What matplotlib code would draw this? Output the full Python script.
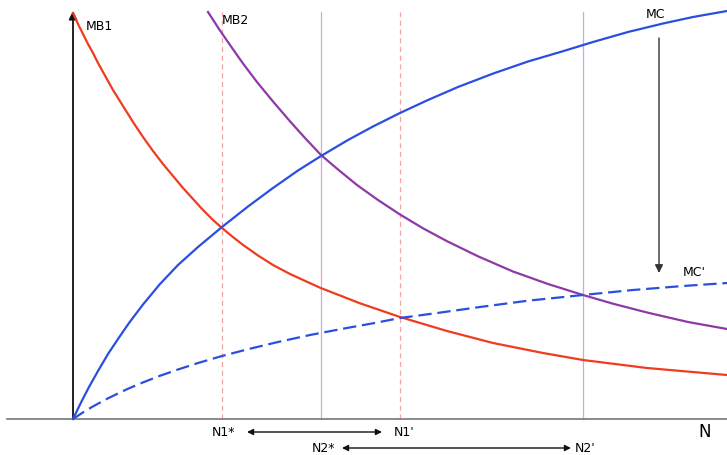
import matplotlib.pyplot as plt

# curve readings: N along the horizontal axis, value up the vertical axis
mb1_n = [0, 5, 10, 15, 20, 25, 30, 35, 40, 50, 60, 70, 80, 90, 100, 110, 120, 130, 140, 149,
         160, 170, 185, 200, 217, 247, 287, 327, 374, 420, 470, 510, 574, 654]
mb1_v = [406, 395, 385, 375, 366, 356, 347, 338, 329, 313, 297, 282, 268, 255, 243, 231, 220, 209, 199, 191,
         181.9, 174.1, 163.5, 154, 145, 131.3, 115.7, 102, 88, 76, 66, 59, 51, 44]

mb2_n = [135, 146, 157, 170, 184, 200, 217, 232, 248, 265, 284, 305, 327, 350, 374, 405, 440, 475,
         510, 540, 574, 615, 654]
mb2_v = [407, 390, 374, 355.5, 337, 317.5, 297.7, 281, 264, 249.5, 234, 219, 204.5, 190.7, 177.8, 162.7,
         147.5, 135, 124, 115.3, 106.5, 97, 90]

mc_n = [0, 8, 16, 25, 35, 45, 56, 70, 87, 105, 125, 149, 175, 200, 225, 248, 275, 300, 327, 355,
        385, 420, 455, 490, 520, 555, 590, 620, 654]
mc_v = [0, 16.5, 32, 48, 65, 80, 96, 114.5, 135, 154, 172, 192, 212.5, 231, 248.5, 263, 279, 292.5, 306, 319,
        332, 345.4, 357.5, 367.8, 377, 387, 395.5, 402, 408]

mc2_n = [0, 10, 20, 35, 54, 70, 87, 105, 125, 149, 175, 205, 237, 270, 300, 327, 365, 407, 455,
         510, 560, 610, 654]
mc2_v = [0, 6.6, 12.6, 20.7, 29.8, 36.6, 43.2, 49.5, 56, 63, 69.8, 77, 84, 90.3, 95.7, 101, 106.1, 112, 118.3,
         124, 129, 133, 136]

# equilibrium quantities
n_marks = {"N1*": 149, "N2*": 248, "N1'": 327, "N2'": 510}

RED = "#f03c1e"
PURPLE = "#8e3aa6"
BLUE = "#2a4fe0"
PINK = "#f3a3a3"
LILAC = "#d4a6de"

fig = plt.figure(figsize=(7.27, 4.55), dpi=100)
ax = fig.add_axes([0, 0, 1, 1])
ax.set_xlim(-73, 654)
ax.set_ylim(-36, 419)
ax.axis("off")

top = 407

# vertical guide lines
for key, style, col in [("N1*", (0, (4, 3)), PINK), ("N1'", (0, (4, 3)), PINK),
                        ("N2*", "-", LILAC), ("N2'", "-", LILAC)]:
    ax.plot([n_marks[key]] * 2, [0, top], color=col, lw=0.9, ls=style, zorder=1)

# axes
ax.plot([-66, 654], [0, 0], color="#777777", lw=1.2, zorder=2)
ax.annotate("", xy=(0, top + 1), xytext=(0, 0),
            arrowprops=dict(arrowstyle="-|>", color="#111111", lw=1.3,
                            mutation_scale=12, shrinkA=0, shrinkB=0), zorder=3)

# curves
ax.plot(mb1_n, mb1_v, color=RED, lw=1.6, zorder=4)
ax.plot(mb2_n, mb2_v, color=PURPLE, lw=1.6, zorder=4)
ax.plot(mc_n, mc_v, color=BLUE, lw=1.6, zorder=5)
line, = ax.plot(mc2_n, mc2_v, color=BLUE, lw=1.6, zorder=5)
line.set_dashes([6, 2.6])

# shift arrow MC -> MC'
ax.annotate("", xy=(586, 146), xytext=(586, 381),
            arrowprops=dict(arrowstyle="-|>", color="#333333", lw=1.0,
                            mutation_scale=12, shrinkA=0, shrinkB=0))

fs = 9
ax.text(13, 392, "MB1", fontsize=fs, ha="left", va="center")
ax.text(149, 399, "MB2", fontsize=fs, ha="left", va="center")
ax.text(573, 405, "MC", fontsize=fs, ha="left", va="center")
ax.text(610, 146, "MC'", fontsize=fs, ha="left", va="center")
ax.text(632, -13, "N", fontsize=12, ha="center", va="center")

# N labels and ranges
ax.text(n_marks["N1*"] - 10, -13, "N1*", fontsize=fs, ha="left", va="center")
ax.text(n_marks["N1'"] - 6, -13, "N1'", fontsize=fs, ha="left", va="center")
ax.text(n_marks["N2*"] - 9, -29, "N2*", fontsize=fs, ha="left", va="center")
ax.text(n_marks["N2'"] - 8, -29, "N2'", fontsize=fs, ha="left", va="center")

dbl = dict(arrowstyle="<|-|>", color="#111111", lw=1.0, mutation_scale=9,
           shrinkA=0, shrinkB=0)
ax.annotate("", xy=(174, -13), xytext=(309, -13), arrowprops=dbl)
ax.annotate("", xy=(269, -29), xytext=(498, -29), arrowprops=dbl)

fig.savefig("out.png", dpi=100)
